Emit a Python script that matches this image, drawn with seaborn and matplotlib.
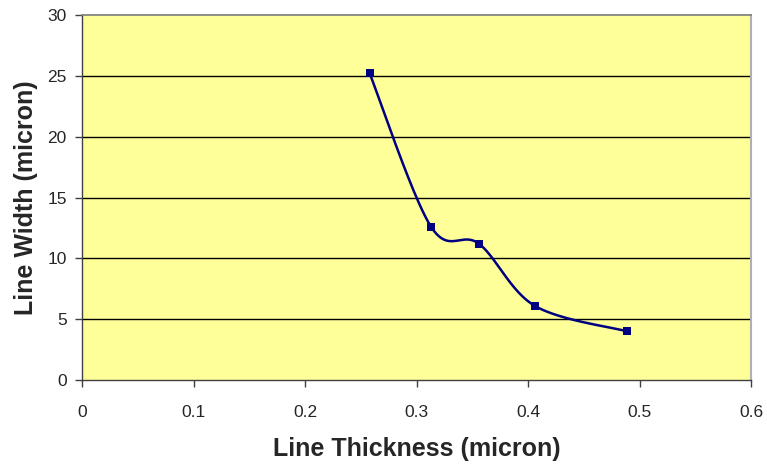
import numpy as np
import pandas as pd
import matplotlib
matplotlib.use("Agg")
import matplotlib.pyplot as plt
import seaborn as sns

# Measured line thickness vs. resulting line width
thickness = [0.258, 0.313, 0.356, 0.406, 0.489]
width = [25.2, 12.6, 11.2, 6.1, 4.0]

x_ticks = [0, 0.1, 0.2, 0.3, 0.4, 0.5, 0.6]
x_tick_labels = ["0", "0.1", "0.2", "0.3", "0.4", "0.5", "0.6"]
y_ticks = [0, 5, 10, 15, 20, 25, 30]


def smooth_curve(xs, ys, steps=40):
    """Catmull-Rom style cubic Bezier through the points (spreadsheet smoothing)."""
    px = np.asarray(xs, float)
    py = np.asarray(ys, float)
    n = len(px)
    out_x, out_y = [], []
    for i in range(n - 1):
        p0 = i - 1 if i > 0 else i
        p3 = i + 2 if i + 2 < n else i + 1
        c1x = px[i] + (px[i + 1] - px[p0]) / 6
        c1y = py[i] + (py[i + 1] - py[p0]) / 6
        c2x = px[i + 1] - (px[p3] - px[i]) / 6
        c2y = py[i + 1] - (py[p3] - py[i]) / 6
        t = np.linspace(0, 1, steps, endpoint=(i == n - 2))
        b0 = (1 - t) ** 3
        b1 = 3 * (1 - t) ** 2 * t
        b2 = 3 * (1 - t) * t ** 2
        b3 = t ** 3
        out_x.extend(b0 * px[i] + b1 * c1x + b2 * c2x + b3 * px[i + 1])
        out_y.extend(b0 * py[i] + b1 * c1y + b2 * c2y + b3 * py[i + 1])
    return np.array(out_x), np.array(out_y)


sns.set_theme(style="white")
plt.rcParams["font.family"] = ["Liberation Sans", "DejaVu Sans"]

fig = plt.figure(figsize=(7.67, 4.68), dpi=100)
ax = fig.add_axes([82 / 767, 1 - 380 / 468, (751 - 82) / 767, (380 - 15) / 468])
ax.set_facecolor("#FFFF99")

cx, cy = smooth_curve(thickness, width)
curve = pd.DataFrame({"thickness": cx, "width": cy})
points = pd.DataFrame({"thickness": thickness, "width": width})

sns.lineplot(data=curve, x="thickness", y="width", sort=False, color="#000080",
             linewidth=1.8, ax=ax, zorder=3)
sns.scatterplot(data=points, x="thickness", y="width", marker="s", s=40,
                color="#000080", edgecolor="#000080", linewidth=0, ax=ax, zorder=4)

ax.set_xlim(0, 0.6)
ax.set_ylim(0, 30)
ax.set_xticks(x_ticks)
ax.set_xticklabels(x_tick_labels)
ax.set_yticks(y_ticks)

for yv in y_ticks[1:-1]:
    ax.axhline(yv, color="black", linewidth=1.0, zorder=1)

for side in ["left", "bottom"]:
    ax.spines[side].set_color("#404040")
    ax.spines[side].set_linewidth(1.0)
ax.spines["top"].set_color("#808080")
ax.spines["right"].set_color("#b0b0b0")
ax.spines["right"].set_linewidth(1.5)

ax.tick_params(axis="both", direction="out", length=5, width=1, color="#404040",
               labelsize=12.5, bottom=True, left=True)
ax.tick_params(axis="x", pad=13)
ax.tick_params(axis="y", pad=6)

ax.set_xlabel("Line Thickness (micron)", fontsize=18, fontweight="bold", labelpad=12)
ax.set_ylabel("Line Width (micron)", fontsize=18, fontweight="bold", labelpad=7)

fig.savefig("out.png", dpi=100, facecolor="white")
